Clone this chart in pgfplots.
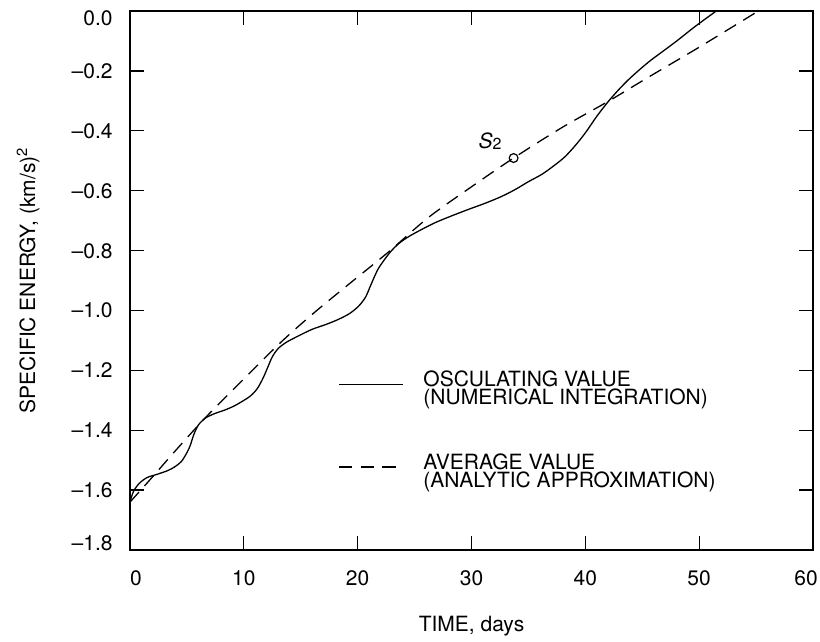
\documentclass[border=0pt]{standalone}
\usepackage{fontspec}
\setmainfont{TeX Gyre Heros}
\usepackage{pgfplots}
\pgfplotsset{compat=1.18}
\begin{document}
\fontsize{10.5}{12}\selectfont
\begin{tikzpicture}
\begin{axis}[
  scale only axis,
  width=341.5pt, height=269.5pt,
  xmin=0, xmax=60, ymin=-1.8, ymax=0,
  axis line style={line width=1.2pt},
  tick style={black, line width=0.65pt},
  major tick length=7pt,
  tick align=inside,
  xtick={0,10,20,30,40,50,60},
  xticklabels={\hspace*{6pt}0,10,20,30,40,50,60\hspace*{7pt}},
  ytick={-1.8,-1.6,-1.4,-1.2,-1.0,-0.8,-0.6,-0.4,-0.2,0},
  yticklabels={\raisebox{3.5pt}{\textendash1.8},\textendash1.6,\textendash1.4,\textendash1.2,\textendash1.0,\textendash0.8,\textendash0.6,\textendash0.4,\textendash0.2,\raisebox{-3.5pt}{0.0}},
  xticklabel style={anchor=base, inner sep=0pt, yshift=-17.5pt},
  yticklabel style={anchor=base east, inner sep=0pt, xshift=-8.5pt, yshift=-3.75pt},
  xlabel={TIME, days},
  ylabel={SPECIFIC ENERGY, (km/s)\textsuperscript{2}},
  xlabel style={at={(axis description cs:0.5,-0.152)}, anchor=base, inner sep=0pt},
  ylabel style={at={(axis description cs:-0.149,0.5)}, anchor=center, inner sep=0pt},
  legend style={at={(axis cs:18.25,-1.20)}, anchor=north west, draw=none, fill=none,
    inner sep=0pt, row sep=23pt, column sep=10pt,
    nodes={inner sep=0pt, align=left, font=\fontsize{10.5}{9}\selectfont}},
  legend cell align=left,
  legend image code/.code={\draw[#1] (0pt,2.5pt) -- (32pt,2.5pt);},
]
\addplot[black, line width=0.65pt, smooth, tension=0.5] coordinates {
(0,-1.64) (0.3,-1.605) (0.8,-1.578) (1.5,-1.558) (2.4,-1.547) (3.3,-1.535)
(3.9,-1.523) (4.5,-1.505) (5.0,-1.475) (5.3,-1.45) (5.6,-1.415) (6.0,-1.383)
(6.6,-1.36) (7.4,-1.345) (8.3,-1.333) (9.1,-1.32) (9.8,-1.305) (10.6,-1.285)
(11.2,-1.26) (11.7,-1.225) (12.1,-1.19) (12.5,-1.155) (13.0,-1.128) (13.7,-1.107)
(14.8,-1.085) (16.0,-1.063) (17.2,-1.047) (18.3,-1.03) (19.3,-1.01) (20.1,-0.985)
(20.7,-0.955) (21.1,-0.92) (21.5,-0.885) (21.9,-0.855) (22.8,-0.808) (23.6,-0.777)
(24.5,-0.753) (25.6,-0.73) (26.8,-0.707) (28.2,-0.685) (29.7,-0.663) (31.2,-0.642)
(32.6,-0.62) (33.8,-0.597) (35.0,-0.57) (36.2,-0.545) (37.3,-0.515) (38.2,-0.487)
(39.1,-0.45) (40.0,-0.407) (41.0,-0.352) (42.0,-0.303) (42.9,-0.264) (43.8,-0.229)
(44.7,-0.198) (45.7,-0.166) (46.8,-0.135) (48.1,-0.098) (49.6,-0.053) (51.5,0.0)
};
\addlegendentry{OSCULATING VALUE\\(NUMERICAL INTEGRATION)}
\addplot[black, line width=0.65pt, dash pattern=on 6.7pt off 4.2pt, smooth, tension=0.5] coordinates {
(0,-1.64) (2,-1.555) (4,-1.468) (6.7,-1.355) (9.6,-1.244) (13.15,-1.11)
(16.1,-1.01) (19.3,-0.91) (22.7,-0.805) (26.2,-0.69) (30,-0.587) (33.7,-0.491)
(38,-0.388) (42,-0.302) (45.5,-0.222) (49.6,-0.13) (52.5,-0.063) (55.2,0.0)
};
\addlegendentry{AVERAGE VALUE\\(ANALYTIC APPROXIMATION)}
\addplot[forget plot, only marks, mark=o, mark size=2.2pt, mark options={line width=0.6pt, black}] coordinates {(33.7,-0.491)};
\node[anchor=base east, inner sep=0pt, xshift=-5.85pt, yshift=5pt] at (axis cs:33.7,-0.491)
  {\textit{S}\raisebox{-0.85pt}{\fontsize{8}{9}\selectfont 2}};
\end{axis}
\pgfresetboundingbox
\path ([xshift=-65pt,yshift=-45.5pt]current axis.south west) rectangle ([xshift=3.5pt,yshift=5.5pt]current axis.north east);
\end{tikzpicture}
\end{document}
